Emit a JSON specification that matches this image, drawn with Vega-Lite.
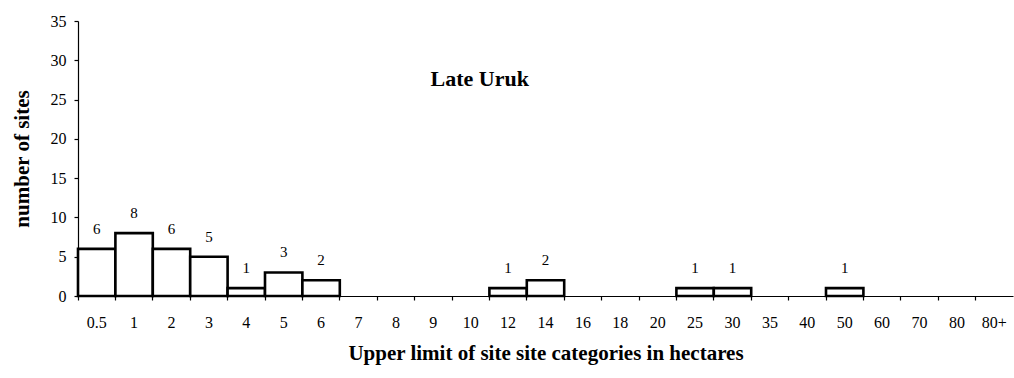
{
  "$schema": "https://vega.github.io/schema/vega-lite/v6.json",
  "width": 935,
  "height": 275,
  "autosize": {"type": "none"},
  "padding": {"left": 78, "top": 21, "right": 1, "bottom": 82},
  "background": "white",
  "config": {
    "view": {"stroke": null},
    "font": "Liberation Serif",
    "axis": {"domainColor": "black", "tickColor": "black", "labelColor": "black", "titleColor": "black", "grid": false, "labelFont": "Liberation Serif", "titleFont": "Liberation Serif", "domainWidth": 1.2, "tickWidth": 1.2}
  },
  "data": {
    "values": [
      {"cat": "0.5", "n": 6},
      {"cat": "1", "n": 8},
      {"cat": "2", "n": 6},
      {"cat": "3", "n": 5},
      {"cat": "4", "n": 1},
      {"cat": "5", "n": 3},
      {"cat": "6", "n": 2},
      {"cat": "12", "n": 1},
      {"cat": "14", "n": 2},
      {"cat": "25", "n": 1},
      {"cat": "30", "n": 1},
      {"cat": "50", "n": 1}
    ]
  },
  "encoding": {
    "x": {
      "field": "cat",
      "type": "nominal",
      "scale": {
        "domain": ["0.5","1","2","3","4","5","6","7","8","9","10","12","14","16","18","20","25","30","35","40","50","60","70","80","80+"],
        "paddingInner": 0,
        "paddingOuter": 0
      },
      "axis": {
        "title": "Upper limit of site site categories in hectares",
        "labelAngle": 0,
        "labelFontSize": 16,
        "labelPadding": 14,
        "tickSize": 4,
        "bandPosition": 0,
        "titleFontSize": 21,
        "titleFontWeight": "bold",
        "titlePadding": 12
      }
    },
    "y": {
      "field": "n",
      "type": "quantitative",
      "scale": {"domain": [0, 35]},
      "axis": {
        "title": "number of sites",
        "values": [0,5,10,15,20,25,30,35],
        "labelFontSize": 16,
        "labelPadding": 8,
        "tickSize": 4,
        "titleFontSize": 21,
        "titleFontWeight": "bold",
        "titlePadding": 18
      }
    }
  },
  "layer": [
    {
      "mark": {"type": "bar", "fill": "white", "stroke": "black", "strokeWidth": 2.6}
    },
    {
      "mark": {"type": "text", "baseline": "bottom", "dy": -12, "fontSize": 15, "color": "black", "font": "Liberation Serif"},
      "encoding": {"text": {"field": "n", "type": "quantitative"}}
    },
    {
      "data": {"values": [{"label": "Late Uruk", "cat": "10", "n": 27.6}]},
      "mark": {"type": "text", "fontSize": 22, "fontWeight": "bold", "color": "black", "align": "center", "baseline": "middle", "font": "Liberation Serif", "dx": 9},
      "encoding": {"text": {"field": "label", "type": "nominal"}}
    }
  ]
}
